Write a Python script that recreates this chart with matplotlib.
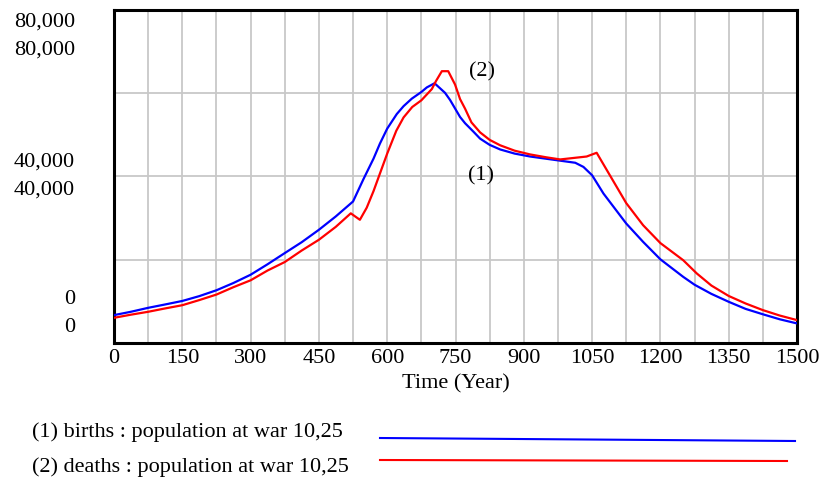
import matplotlib
matplotlib.use("Agg")
import matplotlib.pyplot as plt
from matplotlib.lines import Line2D

# births (1) : population at war 10,25
births_t = [0, 37, 75, 112, 150, 187, 225, 262, 300, 337, 375, 412, 450, 487,
            525, 548, 570, 584, 600, 621, 636, 654, 675, 687, 704, 727, 738, 760,
            771, 790, 804, 825, 848, 880, 914, 980, 1013, 1031, 1050, 1075, 1125,
            1162, 1200, 1250, 1275, 1312, 1350, 1387, 1425, 1462, 1500]
births = [6700, 7500, 8450, 9250, 10100, 11250, 12670, 14400, 16400, 18900, 21600,
          24200, 27200, 30400, 34000, 39400, 44300, 47900, 51500, 55000, 56900,
          58700, 60300, 61400, 62400, 60100, 58400, 54300, 52800, 50700, 49100, 47600,
          46500, 45500, 44800, 43800, 43300, 42300, 40300, 35900, 28700, 24300, 20100,
          15900, 14000, 11800, 9900, 8200, 6900, 5700, 4700]

# deaths (2) : population at war 10,25
deaths_t = [0, 37, 75, 112, 150, 187, 225, 262, 300, 337, 375, 412, 450, 487, 520,
            540, 555, 570, 585, 600, 620, 636, 655, 675, 698, 707, 720, 734, 749,
            760, 771, 785, 804, 825, 848, 880, 914, 950, 980, 1038, 1060, 1089, 1125,
            1162, 1200, 1250, 1280, 1312, 1350, 1387, 1425, 1462, 1500]
deaths = [6050, 6800, 7500, 8300, 9080, 10300, 11640, 13400, 15060, 17400, 19450,
          22200, 24800, 27900, 31150, 29600, 32500, 36500, 41000, 45500, 51000, 54200,
          56700, 58300, 61000, 62900, 65300, 65300, 62100, 58600, 56300, 53000, 50600,
          48800, 47500, 46200, 45300, 44600, 44100, 44800, 45700, 40300, 33600, 28300,
          24000, 19900, 16700, 13800, 11300, 9500, 7900, 6600, 5500]

x_ticks = [0, 150, 300, 450, 600, 750, 900, 1050, 1200, 1350, 1500]
y_labels = [(80000, "80,000"), (40000, "40,000"), (0, "0")]
legend_labels = ["(1) births : population at war 10,25",
                 "(2) deaths : population at war 10,25"]

plt.rcParams['font.family'] = ['Liberation Serif', 'DejaVu Serif']

W, H = 822, 483
fig = plt.figure(figsize=(W / 100, H / 100), dpi=100)
ax = fig.add_axes([114 / W, 1 - 343 / H, (797 - 114) / W, (343 - 10) / H])

ax.set_xlim(0, 1500)
ax.set_ylim(0, 80000)

# grid
for gx in range(75, 1500, 75):
    ax.axvline(gx, color="#c8c8c8", lw=1.3, zorder=1)
for gy in range(20000, 80000, 20000):
    ax.axhline(gy, color="#c8c8c8", lw=1.3, zorder=1)

ax.plot(births_t, births, color="#0000ff", lw=1.6, zorder=3)
ax.plot(deaths_t, deaths, color="#ff0000", lw=1.6, zorder=3)

ax.text(806, 40100, "(1)", fontsize=16, ha="center", va="center")
ax.text(808, 65100, "(2)", fontsize=16, ha="center", va="center")

for s in ax.spines.values():
    s.set_linewidth(2.2)
    s.set_color("black")

ax.set_xticks(x_ticks)
ax.set_xticklabels([str(t) for t in x_ticks], fontsize=16)
ax.set_yticks([])
ax.tick_params(axis="x", length=0, pad=4)
ax.set_xlabel("Time (Year)", fontsize=16, labelpad=5)

# double scale labels, as in Vensim output
y_pix = {80000: (22, 50), 40000: (162, 190), 0: (300, 328)}
for val, lab in y_labels:
    for py in y_pix[val]:
        fig.text(75 / W, 1 - py / H, lab, fontsize=16, ha="right", va="center")

# legend below the chart
fig.text(32 / W, 1 - 432 / H, legend_labels[0], fontsize=16, ha="left", va="center")
fig.text(32 / W, 1 - 467 / H, legend_labels[1], fontsize=16, ha="left", va="center")
fig.add_artist(Line2D([380 / W, 795 / W], [1 - 438 / H, 1 - 441 / H],
                      color="#0000ff", lw=1.5))
fig.add_artist(Line2D([380 / W, 787 / W], [1 - 460 / H, 1 - 461 / H],
                      color="#ff0000", lw=1.5))

fig.savefig("out.png", dpi=100)
